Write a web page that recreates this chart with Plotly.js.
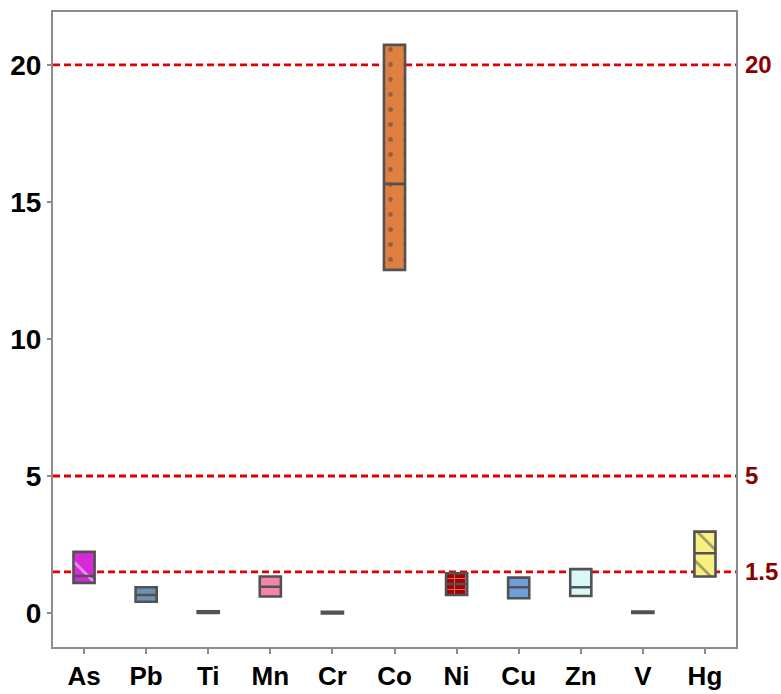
<!DOCTYPE html>
<html><head><meta charset="utf-8">
<script src="https://cdn.plot.ly/plotly-3.0.1.min.js"></script>
<style>html,body{margin:0;padding:0;background:#fff}#chart{width:781px;height:694px}</style>
</head><body><div id="chart"></div>
<script>
const elements = ['As','Pb','Ti','Mn','Cr','Co','Ni','Cu','Zn','V','Hg'];
const q1     = [1.10, 0.41, 0.00, 0.60, -0.02, 12.52, 0.66, 0.54, 0.62, 0.00, 1.33];
const median = [1.35, 0.66, 0.03, 0.96,  0.00, 15.66, 1.06, 0.94, 0.94, 0.02, 2.18];
const q3     = [2.23, 0.94, 0.06, 1.33,  0.04, 20.73, 1.45, 1.29, 1.60, 0.05, 2.97];
const fillColors = ['#d62ad8','#6e8fb8','#808080','#f585a8','#808080','#e08040','#a80000','#6f9ee0','#d8f8f8','#808080','#f8f082'];
const patternShapes = ['\\','','','','','.','+','','','','\\'];
const thresholds = [20, 5, 1.5];
const thresholdLabels = ['20','5','1.5'];

const FONT = 'Liberation Sans, Arial, sans-serif';
const yRange = [-1.24, 21.93];

const bars = {
  type: 'bar',
  x: elements,
  base: q1,
  y: q3.map((v, i) => v - q1[i]),
  width: 0.34,
  marker: {
    color: fillColors,
    line: {width: 0},
    pattern: {
      shape: patternShapes,
      fgcolor: elements.map(() => '#4a4a4a'),
      size: [22, 8, 8, 8, 8, 15, 11, 8, 8, 8, 22],
      solidity: [0.12, 0.3, 0.3, 0.3, 0.3, 0.08, 0.15, 0.3, 0.3, 0.3, 0.12],
      fillmode: 'overlay'
    }
  },
  hoverinfo: 'skip',
  showlegend: false
};

const boxes = {
  type: 'box',
  x: elements,
  q1: q1,
  median: median,
  q3: q3,
  lowerfence: q1,
  upperfence: q3,
  width: 0.34,
  whiskerwidth: 0,
  boxpoints: false,
  fillcolor: 'rgba(0,0,0,0)',
  line: {color: '#525252', width: 2.6},
  showlegend: false
};

const shapes = thresholds.map(t => ({
  type: 'line', xref: 'paper', x0: 0, x1: 1, yref: 'y', y0: t, y1: t,
  layer: 'below',
  line: {color: '#e00000', width: 2.8, dash: '7px,4px'}
}));

const layout = {
  width: 781, height: 694,
  margin: {l: 53, r: 45, t: 12, b: 47},
  paper_bgcolor: '#ffffff',
  plot_bgcolor: '#ffffff',
  showlegend: false,
  font: {family: FONT, color: '#000'},
  xaxis: {
    type: 'category',
    range: [-0.5, 10.5],
    showline: true, mirror: true, linecolor: '#8c8c8c', linewidth: 2,
    ticks: 'outside', ticklen: 5, tickwidth: 2, tickcolor: '#8c8c8c',
    tickfont: {family: FONT, size: 26, color: '#000', weight: 'bold'},
    showgrid: false, zeroline: false
  },
  yaxis: {
    range: yRange,
    tickvals: [0, 5, 10, 15, 20],
    ticktext: ['0','5','10','15','20'],
    showline: true, mirror: true, linecolor: '#8c8c8c', linewidth: 2,
    ticks: 'outside', ticklen: 4, tickwidth: 2, tickcolor: '#8c8c8c',
    tickfont: {family: FONT, size: 28, color: '#000', weight: 'bold'},
    showgrid: false, zeroline: false
  },
  yaxis2: {
    overlaying: 'y', side: 'right',
    range: yRange,
    tickvals: thresholds,
    ticktext: thresholdLabels,
    showline: false, ticks: '', showgrid: false, zeroline: false,
    ticklabelstandoff: 8,
    tickfont: {family: FONT, size: 24, color: '#8b0000', weight: 'bold'}
  },
  shapes: shapes
};

const dummy = {type: 'scatter', x: [elements[0]], y: [null], yaxis: 'y2', showlegend: false, hoverinfo: 'skip'};

Plotly.newPlot('chart', [bars, boxes, dummy], layout, {displayModeBar: false, staticPlot: true});
</script>
</body></html>
